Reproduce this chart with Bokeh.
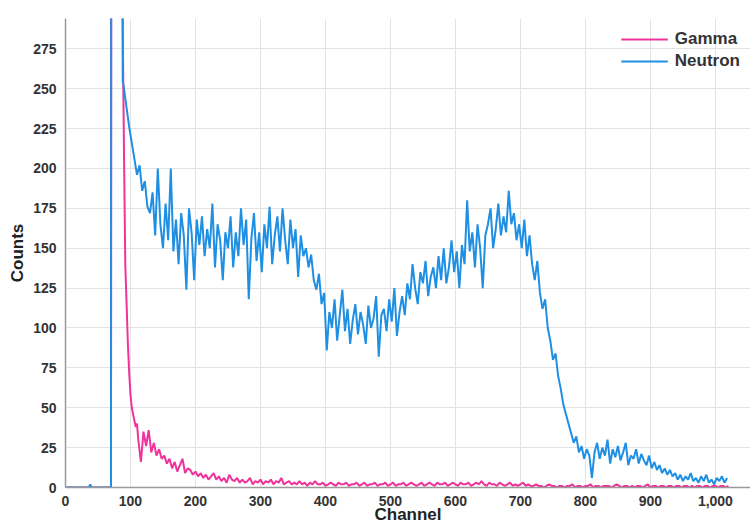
from bokeh.plotting import figure
from bokeh.models import Range1d, NumeralTickFormatter, FixedTicker, Legend, LegendItem
from bokeh.embed import file_html
from bokeh.resources import INLINE

# ---------------- data ----------------
x_ticks = [0, 100, 200, 300, 400, 500, 600, 700, 800, 900, 1000]
y_ticks = [0, 25, 50, 75, 100, 125, 150, 175, 200, 225, 250, 275]

neutron_head_channels = [0, 36, 38, 40, 70, 72, 80, 86, 88]
neutron_head_counts = [0, 0, 2, 0, 0, 2000, 2000, 2000, 255]

neutron_body_counts = [
    250, 238, 226, 216, 206, 196, 202, 186, 192, 176,   # 90-126
    172, 185, 158, 200, 165, 150, 178, 155, 200, 148,   # 130-166
    168, 140, 172, 158, 124, 175, 160, 130, 168, 152,   # 170-206
    170, 145, 162, 150, 178, 138, 165, 155, 130, 160,   # 210-246
    150, 170, 138, 160, 145, 175, 152, 168, 118, 156,   # 250-286
    172, 142, 160, 135, 165, 150, 176, 140, 158, 170,   # 290-326
    148, 175, 155, 140, 168, 150, 162, 132, 158, 145,   # 330-366
    150, 138, 146, 130, 124, 134, 115, 122, 86, 110,    # 370-406
    100, 118, 92, 108, 124, 98, 112, 90, 105, 115,      # 410-446
    96, 110, 102, 90, 114, 100, 106, 120, 82, 108,      # 450-486
    112, 98, 118, 104, 125, 95, 110, 120, 108, 128,     # 490-526
    118, 140, 125, 115, 135, 128, 142, 120, 132, 138,   # 530-566
    125, 145, 130, 150, 128, 138, 155, 135, 148, 125,   # 570-606
    152, 140, 180, 148, 160, 138, 165, 150, 125, 158,   # 610-646
    165, 175, 150, 162, 178, 158, 170, 160, 186, 165,   # 650-686
    172, 155, 165, 150, 168, 145, 158, 140, 130, 142,   # 690-726
    122, 112, 118, 100, 92, 80, 84, 70, 62, 52,         # 730-766
    46, 40, 34, 28, 32, 22, 26, 18, 24, 20,             # 770-806
    6, 22, 28, 18, 25, 20, 30, 15, 24, 19,              # 810-846
    26, 17, 22, 28, 14, 20, 18, 24, 15, 21,             # 850-886
    17, 14, 20, 12, 16, 11, 14, 9, 12, 8,               # 890-926
    11, 7, 9, 5, 8, 4, 7, 5, 9, 4,                      # 930-966
    6, 3, 7, 4, 8, 3, 5, 2, 6, 4,                       # 970-1006
    7, 3, 6,                                            # 1010-1018
]

gamma_head_channels = [0, 70, 72, 80, 86, 88, 90, 92, 94, 96, 98, 100, 102, 104, 106, 108, 110]
gamma_head_counts = [0, 0, 2000, 2000, 2000, 290, 210, 140, 115, 90, 72, 58, 50, 46, 42, 38, 40]

gamma_body_counts = [
    30, 16, 35, 26, 36, 22, 28, 20, 24, 18,   # 112-148
    20, 15, 18, 12, 16, 10, 14, 18, 9, 12,    # 152-188
    11, 8, 10, 7, 9, 6, 8, 5, 7, 9,           # 192-228
    5, 7, 4, 6, 3, 8, 5, 4, 6, 3,             # 232-268
    5, 3, 4, 6, 2, 4, 3, 5, 2, 4,             # 272-308
    3, 5, 2, 4, 3, 6, 2, 3, 4, 2,             # 312-348
    3, 2, 4, 2, 3, 1, 3, 2, 4, 2,             # 352-388
    2, 3, 1, 2, 3, 2, 1, 3, 2, 2,             # 392-428
    3, 1, 2, 2, 3, 1, 2, 3, 1, 2,             # 432-468
    2, 3, 1, 2, 2, 3, 1, 2, 3, 1,             # 472-508
    2, 2, 3, 1, 2, 3, 2, 1, 2, 3,             # 512-548
    1, 2, 3, 2, 1, 3, 2, 2, 3, 1,             # 552-588
    2, 3, 2, 1, 3, 2, 2, 3, 1, 2,             # 592-628
    3, 2, 4, 2, 1, 3, 2, 2, 1, 3,             # 632-668
    2, 1, 2, 3, 1, 2, 1, 2, 3, 1,             # 672-708
    2, 1, 1, 2, 1, 1, 0, 1, 2, 1,             # 712-748
    1, 0, 1, 1, 0, 1, 1, 2, 0, 1,             # 752-788
    1, 0, 1, 1, 2, 0, 1, 1, 0, 1,             # 792-828
    1, 1, 0, 1, 2, 1, 0, 1, 1, 0,             # 832-868
    1, 0, 1, 1, 0, 1, 2, 0, 1, 1,             # 872-908
    0, 1, 1, 0, 1, 1, 0, 1, 1, 0,             # 912-948
    1, 1, 0, 1, 0, 1, 1, 0, 1, 1,             # 952-988
    0, 1, 1, 0, 1, 1, 0, 1,                   # 992-1020
]

neutron_channels = neutron_head_channels + list(range(90, 1019, 4))
neutron_counts = neutron_head_counts + neutron_body_counts
gamma_channels = gamma_head_channels + list(range(112, 1021, 4))
gamma_counts = gamma_head_counts + gamma_body_counts

GAMMA_COLOR = "#f0339a"
NEUTRON_COLOR = "#1e8fe3"
FONT = "Liberation Sans"

# ---------------- figure ----------------
p = figure(width=750, height=526,
           x_range=Range1d(0, 1054), y_range=Range1d(0, 294),
           output_backend="svg", toolbar_location=None,
           min_border_left=65, min_border_right=0,
           min_border_top=18, min_border_bottom=20)
p.outline_line_color = None
p.background_fill_color = "white"

rg = p.line(gamma_channels, gamma_counts, line_color=GAMMA_COLOR, line_width=2)
rn = p.line(neutron_channels, neutron_counts, line_color=NEUTRON_COLOR, line_width=2)

for ax in (p.xaxis[0], p.yaxis[0]):
    ax.axis_line_color = "#9a9a9a"
    ax.axis_line_width = 1.5
    ax.major_tick_line_color = None
    ax.minor_tick_line_color = None
    ax.major_label_text_font = FONT
    ax.major_label_text_font_style = "bold"
    ax.major_label_text_font_size = "14px"
    ax.major_label_text_color = "#333333"
    ax.axis_label_text_font = FONT
    ax.axis_label_text_font_style = "bold"
    ax.axis_label_text_font_size = "17px"
    ax.axis_label_text_color = "#222222"

p.xaxis.ticker = FixedTicker(ticks=x_ticks)
p.yaxis.ticker = FixedTicker(ticks=y_ticks)
p.xaxis.formatter = NumeralTickFormatter(format="0,0")
p.xaxis.axis_label = "Channel"
p.yaxis.axis_label = "Counts"
p.xaxis.major_label_standoff = 2
p.xaxis.axis_label_standoff = -4
p.yaxis.major_label_standoff = 3
p.yaxis.axis_label_standoff = 3

p.xgrid.ticker = FixedTicker(ticks=x_ticks)
p.ygrid.ticker = FixedTicker(ticks=y_ticks)
p.xgrid.grid_line_color = "#e2e2e2"
p.ygrid.grid_line_color = "#e2e2e2"

legend = Legend(items=[LegendItem(label="Gamma", renderers=[rg]),
                       LegendItem(label="Neutron", renderers=[rn])],
                location="top_right", border_line_color=None,
                background_fill_alpha=0, glyph_width=47, glyph_height=22,
                label_height=22, spacing=0, padding=0, margin=10,
                label_standoff=7, label_text_font=FONT,
                label_text_font_style="bold", label_text_font_size="17px",
                label_text_color="#333333")
p.add_layout(legend)

open("out.html", "w").write(file_html(p, INLINE))
